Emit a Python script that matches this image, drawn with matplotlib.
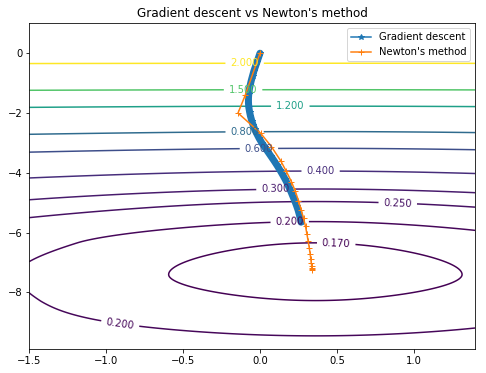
import numpy as np
import matplotlib
matplotlib.use("Agg")
import matplotlib.pyplot as plt

# contour levels shown on the chart
levels = [0.17, 0.2, 0.25, 0.3, 0.4, 0.6, 0.8, 1.2, 1.5, 2.0]

# loss read along the valley (x ~ 0.4): y position -> value
valley_y = [-9.9, -9.45, -8.27, -7.4, -6.34, -5.63, -4.96, -4.54, -3.94,
            -3.18, -2.62, -1.77, -1.22, -0.335, 1.0]
valley_val = [0.215, 0.2, 0.17, 0.157, 0.17, 0.2, 0.25, 0.3, 0.4,
              0.6, 0.8, 1.2, 1.5, 2.0, 2.77]

bend_y = [-9.9, -9.2, -8.3, -7.4, -6.0, -5.0, -4.0, -3.2, -2.6, -1.8, -1.2, -0.5, 1.0]
bend_val = [0.012, 0.016, 0.025, 0.032, 0.032, 0.035, 0.034, 0.030, 0.028,
            0.016, 0.008, 0.005, 0.003]

# gradient descent iterates
gd_x = [0.0, -0.01, -0.02, -0.03, -0.04, -0.048, -0.056, -0.063, -0.069, -0.073,
        -0.075, -0.075, -0.073, -0.068, -0.062, -0.054, -0.045, -0.034, -0.02,
        -0.005, 0.012, 0.032, 0.052, 0.072, 0.092, 0.111, 0.129, 0.146, 0.162,
        0.177, 0.19, 0.203, 0.215, 0.227, 0.238, 0.248, 0.256, 0.263, 0.267]
gd_y = [0.0, -0.15, -0.3, -0.45, -0.6, -0.75, -0.9, -1.05, -1.2, -1.35,
        -1.5, -1.65, -1.8, -1.95, -2.1, -2.25, -2.4, -2.55, -2.7,
        -2.85, -3.0, -3.15, -3.3, -3.45, -3.6, -3.75, -3.9, -4.05, -4.2,
        -4.35, -4.5, -4.65, -4.8, -4.95, -5.1, -5.25, -5.4, -5.55, -5.65]

# Newton's method iterates
nt_x = [0.0, -0.095, -0.143, 0.005, 0.074, 0.135, 0.171, 0.204, 0.23, 0.25,
        0.268, 0.283, 0.296, 0.305, 0.313, 0.32, 0.326, 0.33, 0.333, 0.336,
        0.337, 0.338, 0.339]
nt_y = [0.0, -1.39, -2.0, -2.68, -3.12, -3.6, -3.95, -4.29, -4.62, -4.93,
        -5.24, -5.52, -5.79, -6.04, -6.28, -6.5, -6.7, -6.87, -7.0, -7.1,
        -7.17, -7.22, -7.25]


def pchip(xk, yk, x):
    xk = np.asarray(xk, float)
    yk = np.asarray(yk, float)
    h = np.diff(xk)
    d = np.diff(yk) / h
    m = np.zeros_like(yk)
    m[0], m[-1] = d[0], d[-1]
    for k in range(1, len(xk) - 1):
        if d[k - 1] * d[k] > 0:
            w1 = 2 * h[k] + h[k - 1]
            w2 = h[k] + 2 * h[k - 1]
            m[k] = (w1 + w2) / (w1 / d[k - 1] + w2 / d[k])
    i = np.clip(np.searchsorted(xk, x) - 1, 0, len(xk) - 2)
    t = (x - xk[i]) / h[i]
    h00 = 2 * t**3 - 3 * t**2 + 1
    h10 = t**3 - 2 * t**2 + t
    h01 = -2 * t**3 + 3 * t**2
    h11 = t**3 - t**2
    return h00 * yk[i] + h10 * h[i] * m[i] + h01 * yk[i + 1] + h11 * h[i] * m[i + 1]


xs = np.linspace(-1.5, 1.4, 300)
ys = np.linspace(-9.9, 1.0, 400)
X, Y = np.meshgrid(xs, ys)
s = 1.3
side = s**2 * (np.sqrt(1 + ((X - 0.36) / s) ** 2) - 1)
Z = pchip(valley_y, valley_val, Y) + pchip(bend_y, bend_val, Y) * side

fig = plt.figure(figsize=(486 / 72, 373 / 72), dpi=72)
ax = fig.add_axes([0.0603, 0.0635, 0.9177, 0.874])

cs = ax.contour(X, Y, Z, levels=levels)
label_pos = [(-0.1, -0.33), (-0.11, -1.2), (0.197, -1.76), (-0.1, -2.64),
             (-0.007, -3.17), (0.394, -3.94), (0.1, -4.52), (0.896, -4.98),
             (0.193, -5.58), (0.496, -6.32), (-0.906, -8.94)]
ax.clabel(cs, inline=True, fmt="%.3f", fontsize=10, manual=label_pos)

# the iterates sit so close together that they merge into a solid band
ax.plot(gd_x, gd_y, "-", color="C0", lw=7, solid_capstyle="round")
ax.plot(gd_x, gd_y, "*-", color="C0", label="Gradient descent")
ax.plot(nt_x, nt_y, "+-", color="C1", label="Newton's method")

ax.set_xlim(-1.5, 1.4)
ax.set_ylim(-9.9, 1.0)
ax.set_title("Gradient descent vs Newton's method")
ax.legend(loc="upper right")

fig.savefig("out.png", dpi=72)
